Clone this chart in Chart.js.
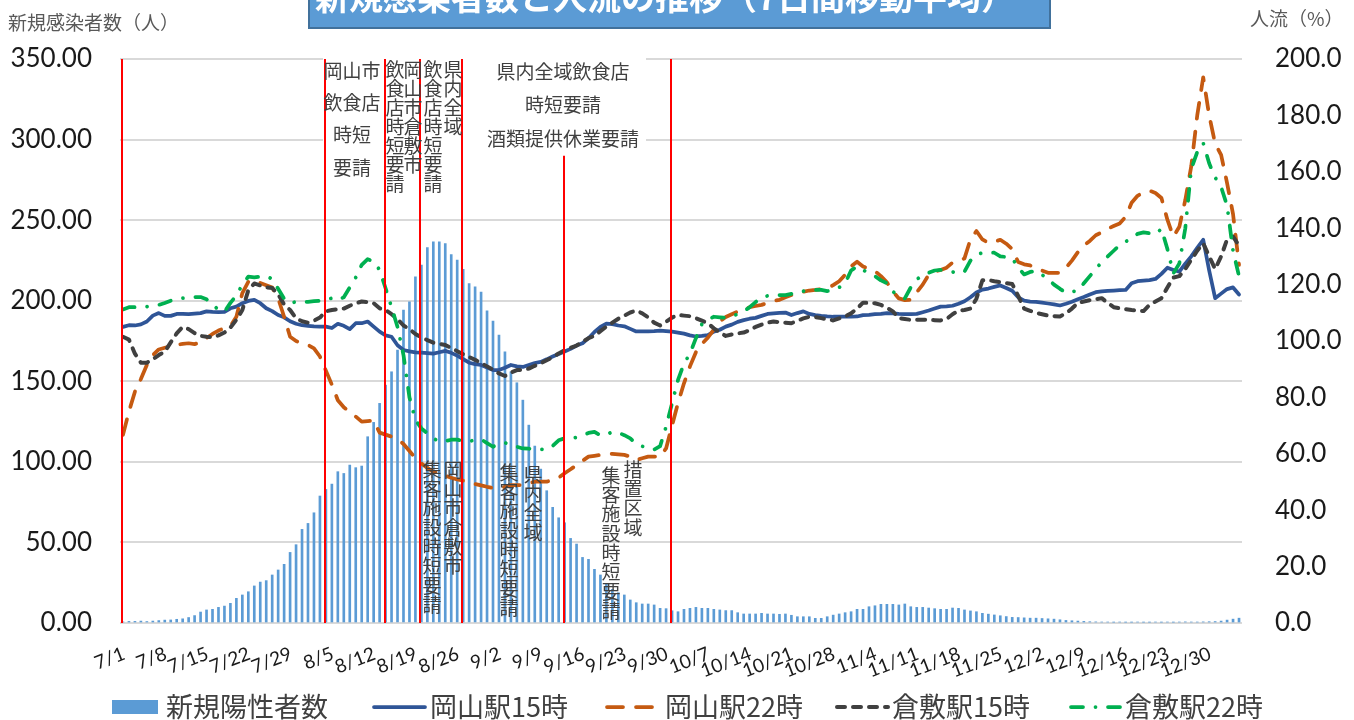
<!DOCTYPE html>
<html lang="ja">
<head>
<meta charset="UTF-8">
<title>新規感染者数と人流の推移（7日間移動平均）</title>
<script src="https://cdn.jsdelivr.net/npm/chart.js@4.4.1/dist/chart.umd.min.js"></script>
<style>
  html, body { margin: 0; padding: 0; background: #fff; }
  #wrap { width: 1354px; height: 720px; }
</style>
</head>
<body>
<div id="wrap"><canvas id="chart" width="1354" height="720"></canvas></div>
<script>
// ---- data ----
// dates: 7/1 .. 1/4 (188 days)
var dayCount = 188;
var dates = [];
for (var i = 0; i < dayCount; i++) {
    var d = new Date(2021, 6, 1 + i);
    dates.push((d.getMonth() + 1) + '/' + d.getDate());
}

// 新規陽性者数 (left axis, people)
var newCases = [
    0.7,1.0,1.0,1.2,0.9,1.2,1.5,1.8,1.9,2.3,2.6,3.4,4.6,
    6.8,8.1,8.5,9.7,10.5,12.2,15.3,17.4,19.4,23.0,25.4,26.3,29.8,32.9,36.4,43.8,48.6,58.1,61.8,68.4,78.8,82.9,86.2,93.9,92.8,98.0,96.4,97.4,115.6,124.5,136.3,147.6,155.9,169.4,
    194.2,199.3,214.8,222.1,233.0,236.6,236.6,235.5,228.7,225.2,219.4,210.7,208.6,205.3,193.8,187.3,178.7,168.3,155.9,149.1,138.3,122.8,109.8,95.5,82.1,71.8,65.3,62.2,52.5,49.0,40.7,39.5,33.3,29.8,24.6,20.9,18.8,17.4,14.3,12.6,11.8,11.8,11.2,9.1,8.9,7.6,7.0,
    8.5,9.1,9.7,9.1,9.1,8.5,8.1,7.7,7.7,6.4,5.6,5.6,5.6,6.0,5.6,5.6,5.4,5.6,4.8,3.9,3.9,3.9,2.9,2.9,3.9,4.9,5.6,6.4,7.0,8.5,8.5,10.1,10.7,11.6,11.6,11.6,11.2,11.8,10.1,9.7,9.7,9.3,8.9,8.5,8.5,9.3,9.1,8.1,
    7.5,7.0,6.0,5.5,5.0,4.5,4.0,3.5,3.4,3.2,3.0,3.0,2.8,2.6,2.4,2.0,1.6,1.4,1.2,1.0,0.8,0.7,0.6,0.6,0.5,0.6,0.5,0.5,0.6,0.5,0.5,0.6,0.5,0.6,0.5,0.6,0.7,0.6,0.6,0.7,0.8,0.9,1.2,1.8,2.4,3.0
];

// 人流 (right axis, %)
var okayama15 = [
    105.0,105.6,105.5,105.9,106.9,109.0,109.9,108.9,108.9,109.6,109.6,109.5,109.7,109.9,110.5,110.3,110.2,110.3,111.6,112.2,113.4,114.2,114.6,113.4,111.6,110.6,109.2,108.4,107.0,106.1,105.6,105.4,105.2,105.1,105.1,104.6,106.1,105.4,104.2,106.3,106.3,106.9,105.1,103.3,102.0,101.5,98.5,
    96.8,96.3,96.0,95.9,95.7,95.5,96.0,96.5,95.8,94.8,93.6,92.3,91.8,91.5,90.6,89.7,89.7,90.5,91.5,91.0,90.8,91.5,92.2,92.6,93.5,94.5,95.4,96.3,97.2,98.4,99.2,101.0,103.2,105.0,106.2,106.0,105.5,105.2,104.3,103.4,103.4,103.4,103.5,103.7,103.5,103.3,103.0,
    102.6,102.0,101.6,101.8,102.1,103.3,104.0,105.1,105.8,106.8,107.4,107.9,108.2,108.9,109.6,109.8,110.0,110.1,109.2,109.9,110.5,109.6,109.2,108.9,108.7,108.6,108.6,108.6,108.6,108.7,109.2,109.3,109.5,109.6,109.9,109.8,109.6,109.5,109.5,109.6,110.2,110.8,111.5,112.2,112.3,112.5,113.2,114.1,
    115.5,117.2,118.2,118.6,119.2,119.7,118.8,117.8,115.5,114.3,114.0,113.9,113.6,113.3,113.0,112.6,113.2,113.9,114.8,115.6,116.5,117.3,117.6,117.8,117.9,118.0,118.1,120.5,121.2,121.4,121.6,122.0,123.8,126.0,125.2,124.6,127.4,130.0,133.0,135.9,125.0,115.2,116.8,118.4,119.0,116.5
];
var okayama22 = [
    66.7,75.0,82.0,86.5,91.5,95.0,97.0,97.6,98.2,98.6,99.0,99.2,98.9,99.5,101.0,102.5,103.7,104.5,105.3,108.6,117.0,121.0,121.6,120.6,119.8,119.0,115.1,108.6,101.5,100.0,99.2,98.6,97.4,94.5,89.5,84.5,79.0,76.5,74.9,73.2,71.4,71.6,71.8,67.5,66.8,66.1,65.2,
    63.5,61.0,58.5,56.6,55.0,53.7,53.0,52.3,51.5,50.9,50.5,49.8,49.3,48.8,48.3,47.9,47.8,48.3,48.9,48.9,48.9,49.5,50.1,50.1,50.1,50.8,51.5,53.1,54.5,56.0,57.5,59.0,59.3,59.6,59.8,60.0,59.8,59.6,59.0,57.8,58.4,59.0,59.0,59.0,61.9,70.0,78.0,
    85.0,91.0,96.0,99.0,101.2,104.0,107.0,108.5,109.5,110.4,111.2,112.0,112.4,112.8,113.5,114.2,114.6,115.5,116.3,117.0,117.5,117.9,118.1,118.4,118.7,119.8,121.2,123.5,126.5,128.1,126.4,125.6,124.8,123.0,120.8,117.5,115.1,114.5,114.6,117.3,120.0,123.5,124.6,125.2,126.0,127.8,128.5,129.3,
    136.0,139.0,136.0,134.8,135.2,135.9,134.5,132.6,128.0,127.2,126.8,125.8,125.0,124.2,124.2,124.2,126.0,128.5,131.5,133.9,135.5,137.5,138.5,139.8,140.8,141.7,144.0,149.0,151.5,152.7,153.3,152.5,150.7,143.0,137.0,140.5,150.0,162.0,180.0,193.5,180.0,170.0,166.0,156.0,145.0,127.0
];
var kurashiki15 = [
    101.5,100.5,95.5,92.3,92.3,93.5,95.0,96.2,99.5,102.7,105.0,104.2,102.8,101.8,101.5,101.3,102.0,103.0,104.8,107.5,111.0,118.0,120.4,119.7,119.0,118.8,116.5,113.0,111.0,108.0,107.0,106.5,107.2,108.3,110.5,111.0,111.3,111.5,112.5,113.4,114.0,113.8,113.4,111.6,111.0,109.5,107.8,
    105.5,104.2,102.5,101.3,100.3,99.4,99.0,98.6,97.5,96.4,95.3,94.3,93.3,92.2,91.0,89.8,88.5,87.6,88.8,89.7,89.8,90.2,91.2,92.1,93.2,94.2,95.6,96.7,97.6,98.4,99.7,101.0,101.8,103.5,105.1,106.5,107.9,109.0,110.1,110.8,109.8,108.4,106.5,105.5,106.8,108.3,109.2,
    109.0,108.8,108.1,107.2,106.3,104.5,103.0,101.8,102.3,102.7,103.0,103.8,105.0,105.8,106.5,106.9,106.7,106.5,106.3,107.2,108.0,108.6,108.5,108.1,107.7,107.3,108.0,108.7,109.8,111.5,113.6,113.5,113.4,112.8,111.8,110.5,108.1,107.8,107.5,107.5,107.5,107.5,107.4,107.3,107.8,109.5,110.7,111.0,
    111.5,115.0,121.5,121.6,121.2,120.9,120.5,120.2,116.0,111.5,110.7,110.0,109.5,109.0,108.8,108.7,109.8,111.5,113.5,114.0,114.5,114.8,115.2,113.5,112.0,111.6,111.3,111.0,110.8,110.6,112.8,114.0,115.2,119.0,122.5,123.0,125.5,128.8,132.0,134.6,130.0,125.5,130.0,136.0,137.0,133.9
];
var kurashiki22 = [
    111.2,112.0,112.0,112.1,112.2,112.5,112.8,113.5,114.3,114.8,115.2,115.4,115.6,115.6,114.8,113.0,111.0,110.4,113.5,116.2,120.0,122.8,122.6,122.8,123.0,122.0,118.5,115.0,113.4,113.9,113.9,113.9,114.1,114.3,114.6,115.2,114.5,115.5,119.0,122.5,127.0,129.0,128.2,125.2,118.7,112.0,105.0,
    95.0,80.0,72.0,69.0,67.3,65.5,64.3,64.5,65.0,65.0,64.6,64.5,64.8,65.1,63.8,62.5,63.5,63.9,63.2,62.5,61.9,61.8,61.7,61.6,61.5,62.8,64.8,65.5,65.6,65.8,66.5,67.4,67.8,66.5,66.8,67.8,67.5,66.6,65.5,63.5,62.7,61.8,61.5,62.7,69.6,77.9,86.2,
    92.0,95.5,101.0,106.0,107.6,108.6,108.4,108.2,108.8,109.5,110.5,112.0,113.8,115.5,116.0,116.3,116.3,116.3,116.7,117.3,117.7,118.1,118.1,118.1,117.7,118.0,119.0,120.5,125.0,126.5,125.2,124.0,123.0,121.5,120.5,117.5,116.0,115.1,119.0,121.8,123.4,124.2,125.0,125.2,124.8,124.5,124.0,124.6,
    128.5,130.5,131.3,131.3,131.3,130.0,129.8,129.4,126.0,123.6,124.5,124.9,123.5,122.0,120.0,118.5,117.1,117.5,117.8,120.5,123.0,125.5,128.0,130.0,132.0,134.0,135.2,136.5,138.0,138.5,138.2,137.8,139.8,132.6,124.0,127.5,140.0,161.0,167.0,170.2,163.0,158.0,154.6,148.0,132.0,123.0
];

// 要請の開始日（赤線）と線の上端（左軸の値）
var eventDates = ['7/1', '8/4', '8/14', '8/20', '8/27', '9/13', '10/1'];
var eventTops  = [350, 350, 350, 350, 350, 290, 350];

var jpFont = '"Noto Sans CJK JP", "Noto Sans CJK SC", sans-serif';
var numFont = 'Lato, "Liberation Sans", sans-serif';

function vText(ctx, text, x, y0, step) {
    for (var i = 0; i < text.length; i++) {
        ctx.fillText(text[i], x, y0 + step * i + step / 2);
    }
}

var overlay = {
    id: 'overlay',
    afterDatasetsDraw: function(chart) {
        var ctx = chart.ctx;
        var xs = chart.scales.x, ys = chart.scales.y;
        var area = chart.chartArea;
        ctx.save();

        // text boxes at the top
        ctx.fillStyle = '#ffffff';
        ctx.fillRect(323, 50, 154, 150);
        ctx.fillRect(477, 50, 169, 102);

        // red lines
        ctx.strokeStyle = '#ff0000';
        ctx.lineWidth = 2;
        for (var k = 0; k < eventDates.length; k++) {
            var x = Math.round(xs.getPixelForValue(dates.indexOf(eventDates[k]))) - 1;
            ctx.beginPath();
            ctx.moveTo(x, ys.getPixelForValue(eventTops[k]));
            ctx.lineTo(x, area.bottom);
            ctx.stroke();
        }

        ctx.fillStyle = '#404040';
        ctx.textAlign = 'center';
        ctx.textBaseline = 'middle';
        ctx.font = '19px ' + jpFont;
        var a = ['岡山市', '飲食店', '時短', '要請'];
        var ay = [71, 103, 135, 168];
        for (var j = 0; j < a.length; j++) ctx.fillText(a[j], 352, ay[j]);
        var b = ['県内全域飲食店', '時短要請', '酒類提供休業要請'];
        var by = [72, 105, 139];
        for (j = 0; j < b.length; j++) ctx.fillText(b[j], 563, by[j]);

        vText(ctx, '飲食店時短要請', 395, 60, 19);
        vText(ctx, '岡山市倉敷市', 413, 60, 19);
        vText(ctx, '飲食店時短要請', 433, 60, 19);
        vText(ctx, '県内全域', 453, 60, 19);

        vText(ctx, '集客施設時短要請', 432, 460, 19.3);
        vText(ctx, '岡山市倉敷市', 453, 460, 19.3);
        vText(ctx, '集客施設時短要請', 509, 463, 19.3);
        vText(ctx, '県内全域', 533, 465, 19.3);
        vText(ctx, '集客施設時短要請', 611, 466, 19.3);
        vText(ctx, '措置区域', 633, 460, 19.3);
        ctx.restore();
    },
    afterDraw: function(chart) {
        var ctx = chart.ctx;
        var xs = chart.scales.x;
        ctx.save();

        // title box (cut at top)
        ctx.fillStyle = '#5B9BD5';
        ctx.strokeStyle = '#41719C';
        ctx.lineWidth = 2;
        ctx.fillRect(309, -10, 741, 38);
        ctx.strokeRect(309, -10, 741, 38);
        ctx.fillStyle = '#ffffff';
        ctx.font = 'bold 34px ' + jpFont;
        ctx.textAlign = 'left';
        ctx.textBaseline = 'middle';
        ctx.fillText('新規感染者数と人流の推移（7日間移動平均）', 315, -3);

        // axis titles
        ctx.fillStyle = '#595959';
        ctx.font = '19px ' + jpFont;
        ctx.fillText('新規感染者数（人）', 8, 23);
        ctx.fillText('人流（%）', 1250, 19);

        // x labels, every 7 days
        ctx.fillStyle = '#1a1a1a';
        ctx.font = '19px ' + numFont;
        ctx.textAlign = 'right';
        for (var i = 0; i < dates.length; i += 7) {
            ctx.save();
            ctx.translate(xs.getPixelForValue(i) + 1, 653);
            ctx.rotate(-21 * Math.PI / 180);
            ctx.fillText(dates[i], 0, 0);
            ctx.restore();
        }

        // legend
        var ly = 707;
        var sx = [112, 372, 605, 835, 1069];
        var tx = [166, 430, 665, 892, 1125];
        var byLabel = {};
        chart.data.datasets.forEach(function(s) { byLabel[s.label] = s; });
        var names = ['新規陽性者数', '岡山駅15時', '岡山駅22時', '倉敷駅15時', '倉敷駅22時'];
        ctx.textAlign = 'left';
        ctx.font = '27px ' + jpFont;
        for (var n = 0; n < names.length; n++) {
            var s = byLabel[names[n]];
            if (n === 0) {
                ctx.fillStyle = s.backgroundColor;
                ctx.fillRect(sx[n], 700, 46, 14);
            } else {
                ctx.strokeStyle = s.borderColor;
                ctx.lineWidth = s.borderWidth;
                ctx.lineCap = 'round';
                ctx.setLineDash(s.borderDash || []);
                ctx.beginPath();
                ctx.moveTo(sx[n] + 2, ly);
                ctx.lineTo(sx[n] + 53, ly);
                ctx.stroke();
                ctx.setLineDash([]);
            }
            ctx.fillStyle = '#404040';
            ctx.fillText(names[n], tx[n], ly);
        }
        ctx.restore();
    }
};

var lineBase = {
    type: 'line',
    yAxisID: 'y1',
    borderWidth: 3.75,
    pointRadius: 0,
    tension: 0,
    fill: false,
    borderCapStyle: 'round',
    borderJoinStyle: 'round'
};

var ctx = document.getElementById('chart').getContext('2d');
var chart = new Chart(ctx, {
    type: 'bar',
    data: {
        labels: dates,
        datasets: [
            {
                type: 'bar',
                label: '新規陽性者数',
                data: newCases,
                yAxisID: 'y',
                backgroundColor: '#5B9BD5',
                barThickness: 2,
                order: 5
            },
            Object.assign({}, lineBase, {
                label: '岡山駅15時', data: okayama15,
                borderColor: '#2F5597', order: 4
            }),
            Object.assign({}, lineBase, {
                label: '岡山駅22時', data: okayama22,
                borderColor: '#C55A11', borderDash: [16, 13], order: 3
            }),
            Object.assign({}, lineBase, {
                label: '倉敷駅15時', data: kurashiki15,
                borderColor: '#404040', borderWidth: 4, borderDash: [8, 8], order: 2
            }),
            Object.assign({}, lineBase, {
                label: '倉敷駅22時', data: kurashiki22,
                borderColor: '#00B050', borderDash: [12, 12.5, 0.01, 12.5], order: 1
            })
        ]
    },
    options: {
        responsive: false,
        animation: false,
        devicePixelRatio: 1,
        layout: { padding: { top: 59, left: 0, right: 0, bottom: 0 } },
        plugins: {
            legend: { display: false },
            tooltip: { enabled: false }
        },
        scales: {
            x: {
                offset: true,
                grid: { display: false },
                border: { display: false },
                ticks: { display: false },
                afterFit: function(s) { s.height = 97; }
            },
            y: {
                position: 'left',
                min: 0,
                max: 350,
                ticks: {
                    stepSize: 50,
                    padding: 28,
                    color: '#1a1a1a',
                    font: { family: numFont, size: 26 },
                    callback: function(v) { return v.toFixed(2); }
                },
                grid: { color: '#d9d9d9', lineWidth: 2, drawTicks: false },
                border: { display: false },
                afterFit: function(s) { s.width = 120; }
            },
            y1: {
                position: 'right',
                min: 0,
                max: 200,
                ticks: {
                    stepSize: 20,
                    padding: 33,
                    color: '#1a1a1a',
                    font: { family: numFont, size: 26 },
                    callback: function(v) { return v.toFixed(1); }
                },
                grid: { drawOnChartArea: false, drawTicks: false },
                border: { display: false },
                afterFit: function(s) { s.width = 112; }
            }
        }
    },
    plugins: [overlay]
});
</script>
</body>
</html>
